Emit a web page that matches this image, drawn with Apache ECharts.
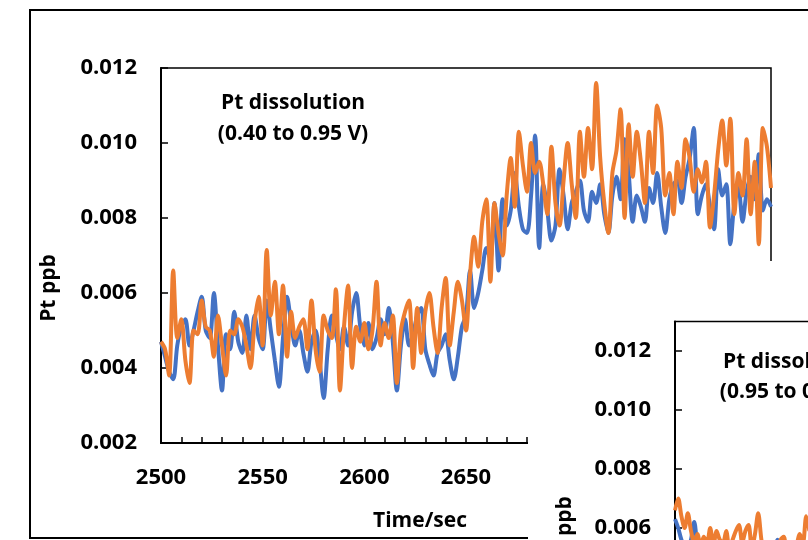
<!DOCTYPE html>
<html>
<head>
<meta charset="utf-8">
<script src="https://cdn.jsdelivr.net/npm/echarts@6/dist/echarts.min.js"></script>
<style>
html,body{margin:0;padding:0;background:#fff;}
#c{width:808px;height:540px;}
</style>
</head>
<body>
<div id="c"></div>
<script>
// ---- main panel (0.40 to 0.95 V), sampled every 2 s from 2500 s ----
const mainStart = 2500;
const mainStep = 2;
const mainBlue = [
0.0047,0.0043,0.0039,0.0037,0.0046,0.0051,0.0053,0.0046,0.0050,0.0055,
0.0059,0.0050,0.0048,0.0060,0.0046,0.0034,0.0049,0.0045,0.0055,0.0047,
0.0044,0.0054,0.0045,0.0054,0.0048,0.0045,0.0058,0.0050,0.0042,0.0035,
0.0048,0.0059,0.0052,0.0046,0.0050,0.0044,0.0039,0.0047,0.0050,0.0042,
0.0032,0.0045,0.0054,0.0049,0.0045,0.0051,0.0046,0.0055,0.0060,0.0051,
0.0046,0.0052,0.0045,0.0048,0.0053,0.0049,0.0056,0.0047,0.0034,0.0046,
0.0053,0.0046,0.0049,0.0054,0.0056,0.0045,0.0041,0.0038,0.0044,0.0046,
0.0049,0.0042,0.0037,0.0043,0.0051,0.0054,0.0066,0.0056,0.0060,0.0066,
0.0072,0.0069,0.0084,0.0066,0.0085,0.0078,0.0082,0.0092,0.0083,0.0077,
0.0076,0.0086,0.0102,0.0072,0.0089,0.0082,0.0074,0.0078,0.0093,0.0086,
0.0077,0.0084,0.0087,0.0090,0.0082,0.0079,0.0087,0.0084,0.0089,0.0081,
0.0076,0.0086,0.0091,0.0085,0.0101,0.0092,0.0079,0.0086,0.0083,0.0079,
0.0088,0.0084,0.0092,0.0083,0.0076,0.0085,0.0089,0.0090,0.0084,0.0091,
0.0096,0.0104,0.0081,0.0086,0.0089,0.0083,0.0077,0.0093,0.0086,0.0089,
0.0073,0.0084,0.0088,0.0079,0.0087,0.0091,0.0085,0.0097,0.0082,0.0085,
0.0083
];
const mainOrange = [
0.0047,0.0045,0.0038,0.0066,0.0048,0.0053,0.0042,0.0036,0.0050,0.0049,
0.0058,0.0051,0.0050,0.0043,0.0054,0.0046,0.0038,0.0050,0.0049,0.0053,
0.0051,0.0046,0.0040,0.0052,0.0059,0.0046,0.00715,0.0054,0.0063,0.0049,
0.0062,0.0043,0.0055,0.0048,0.0051,0.0053,0.0045,0.0058,0.0045,0.0039,
0.0054,0.0050,0.0048,0.0061,0.0034,0.0051,0.0062,0.0040,0.0051,0.0047,
0.0052,0.0045,0.0050,0.0063,0.0046,0.0052,0.0048,0.0054,0.0036,0.0050,
0.0055,0.0058,0.0040,0.0056,0.0044,0.0055,0.0060,0.0051,0.0044,0.0056,
0.0064,0.0046,0.0055,0.0063,0.0058,0.0050,0.0065,0.0075,0.0067,0.0079,
0.0085,0.0063,0.0084,0.0076,0.0070,0.0086,0.0096,0.0083,0.0103,0.0094,
0.0087,0.0100,0.0092,0.0095,0.0089,0.0081,0.0099,0.0084,0.0078,0.0090,
0.0100,0.0089,0.0080,0.0103,0.0091,0.0104,0.0093,0.0116,0.0096,0.0084,
0.0076,0.0092,0.0098,0.0109,0.0080,0.0105,0.0091,0.0103,0.0095,0.0084,
0.0103,0.0092,0.0110,0.0104,0.0086,0.0092,0.0081,0.0095,0.0088,0.0101,
0.0096,0.0087,0.0093,0.00895,0.0095,0.00775,0.0086,0.0098,0.0106,0.0094,
0.01065,0.0081,0.0092,0.0086,0.0101,0.0081,0.0095,0.0073,0.0104,0.0099,
0.0088
];
// ---- inset panel (0.95 to 0.40 V), visible start only, every 2 s ----
const insetStart = 3100;
const insetStep = 2;
const insetBlue = [
0.0063,0.0060,0.0056,0.0054,0.0053,0.0056,0.0062,0.0054,0.0050,0.0052,
0.0049,0.0051,0.0048,0.0052,0.0050,0.0047,0.0051,0.0049,0.0053,0.0050,
0.0048,0.0052,0.0050,0.0053,0.0049,0.0051,0.0052,0.0048,0.0046,0.0049,
0.0051,0.0053,0.0056,0.0050,0.0048,0.0051,0.0049,0.0052,0.0050,0.0053,
0.0051,0.0054,0.0050
];
const insetOrange = [
0.0066,0.0070,0.0064,0.0060,0.0065,0.0059,0.0055,0.0058,0.0054,0.0057,
0.0055,0.0060,0.0054,0.0059,0.0056,0.0055,0.0059,0.0053,0.0056,0.0059,
0.0061,0.0055,0.0059,0.0061,0.0053,0.0058,0.0065,0.0056,0.0050,0.0052,
0.0049,0.0054,0.0050,0.0056,0.0057,0.0051,0.0053,0.0050,0.0054,0.0058,
0.0055,0.0064,0.0059
];
const yTicksMain = [0.002, 0.012, 0.002]; // min, max, interval
const xTicksMain = [2500, 2800, 50];

function pairs(start, step, vals){ return vals.map((v,i)=>[start+i*step, v]); }

const BLUE = '#4472C4', ORANGE = '#ED7D31';
const FONT = '"Open Sans", "DejaVu Sans", sans-serif';
const lbl = {color:'#000', fontFamily:FONT, fontWeight:'bold', fontSize:22};

const chart = echarts.init(document.getElementById('c'), null, {renderer:'canvas'});
chart.setOption({
  animation:false,
  backgroundColor:'#fff',
  grid:[
    {left:161, top:68, width:610, height:375, outerBoundsMode:'none', containLabel:false, show:true, borderColor:'#000', borderWidth:1.5, backgroundColor:'transparent', z:0},
    {left:675, top:321.5, width:480, height:383.5, outerBoundsMode:'none', containLabel:false, show:true, borderColor:'#000', borderWidth:1.5, backgroundColor:'transparent', z:20}
  ],
  xAxis:[
    {gridIndex:0, type:'value', min:xTicksMain[0], max:xTicksMain[1], interval:xTicksMain[2],
     axisLine:{show:true, onZero:false, lineStyle:{color:'#000', width:2}},
     axisTick:{show:true, inside:true, length:6, lineStyle:{color:'#000', width:1.5}},
     minorTick:{show:true, splitNumber:5, length:6, lineStyle:{color:'#000', width:1.5}},
     splitLine:{show:false},
     axisLabel:Object.assign({margin:24, formatter:v=>String(v)}, lbl)},
    {gridIndex:1, type:'value', min:3100, max:3400, interval:50, z:20,
     axisLine:{show:true, onZero:false, lineStyle:{color:'#000', width:2}},
     axisTick:{show:true, inside:true, length:6, lineStyle:{color:'#000', width:1.5}},
     splitLine:{show:false},
     axisLabel:Object.assign({margin:24, formatter:v=>String(v)}, lbl)}
  ],
  yAxis:[
    {gridIndex:0, type:'value', min:yTicksMain[0], max:yTicksMain[1], interval:yTicksMain[2],
     axisLine:{show:true, onZero:false, lineStyle:{color:'#000', width:2}},
     axisTick:{show:true, inside:true, length:7, lineStyle:{color:'#000', width:1.5}},
     splitLine:{show:false},
     axisLabel:Object.assign({margin:24, formatter:v=>v.toFixed(3)}, lbl)},
    {gridIndex:1, type:'value', min:0, max:0.013, interval:0.002, z:20,
     axisLine:{show:true, onZero:false, lineStyle:{color:'#000', width:2}},
     axisTick:{show:true, inside:true, length:7, lineStyle:{color:'#000', width:1.5}},
     splitLine:{show:false},
     axisLabel:Object.assign({margin:24, showMaxLabel:false, formatter:v=>v.toFixed(3)}, lbl)}
  ],
  series:[
    {type:'line', xAxisIndex:0, yAxisIndex:0, data:pairs(mainStart, mainStep, mainBlue), showSymbol:false, smooth:0.3, lineStyle:{color:BLUE, width:4}, itemStyle:{color:BLUE}, z:2},
    {type:'line', xAxisIndex:0, yAxisIndex:0, data:pairs(mainStart, mainStep, mainOrange), showSymbol:false, smooth:0.3, lineStyle:{color:ORANGE, width:4}, itemStyle:{color:ORANGE}, z:3},
    {type:'line', xAxisIndex:1, yAxisIndex:1, data:pairs(insetStart, insetStep, insetBlue), showSymbol:false, smooth:0.3, lineStyle:{color:BLUE, width:4}, itemStyle:{color:BLUE}, z:21},
    {type:'line', xAxisIndex:1, yAxisIndex:1, data:pairs(insetStart, insetStep, insetOrange), showSymbol:false, smooth:0.3, lineStyle:{color:ORANGE, width:4}, itemStyle:{color:ORANGE}, z:22}
  ],
  graphic:{elements:[
    {type:'rect', z:1, shape:{x:30, y:10, width:820, height:528}, style:{fill:null, stroke:'#000', lineWidth:2}},
    {type:'rect', z:10, shape:{x:528, y:261, width:300, height:300}, style:{fill:'#fff', stroke:null}},
    {type:'text', z:30, x:293, y:103, style:{text:'Pt dissolution', fill:'#000', font:'bold 21px '+FONT, align:'center', verticalAlign:'middle'}},
    {type:'text', z:30, x:293, y:134, style:{text:'(0.40 to 0.95 V)', fill:'#000', font:'bold 21px '+FONT, align:'center', verticalAlign:'middle'}},
    {type:'text', z:30, x:795, y:362, style:{text:'Pt dissolution', fill:'#000', font:'bold 21px '+FONT, align:'center', verticalAlign:'middle'}},
    {type:'text', z:30, x:795, y:392, style:{text:'(0.95 to 0.40 V)', fill:'#000', font:'bold 21px '+FONT, align:'center', verticalAlign:'middle'}},
    {type:'text', z:30, x:420, y:521, style:{text:'Time/sec', fill:'#000', font:'bold 21px '+FONT, align:'center', verticalAlign:'middle'}},
    {type:'text', z:30, x:49, y:288, rotation:Math.PI/2, style:{text:'Pt ppb', fill:'#000', font:'bold 21px '+FONT, align:'center', verticalAlign:'middle'}},
    {type:'text', z:30, x:565, y:530, rotation:Math.PI/2, style:{text:'Pt ppb', fill:'#000', font:'bold 21px '+FONT, align:'center', verticalAlign:'middle'}}
  ]}
});
</script>
</body>
</html>
